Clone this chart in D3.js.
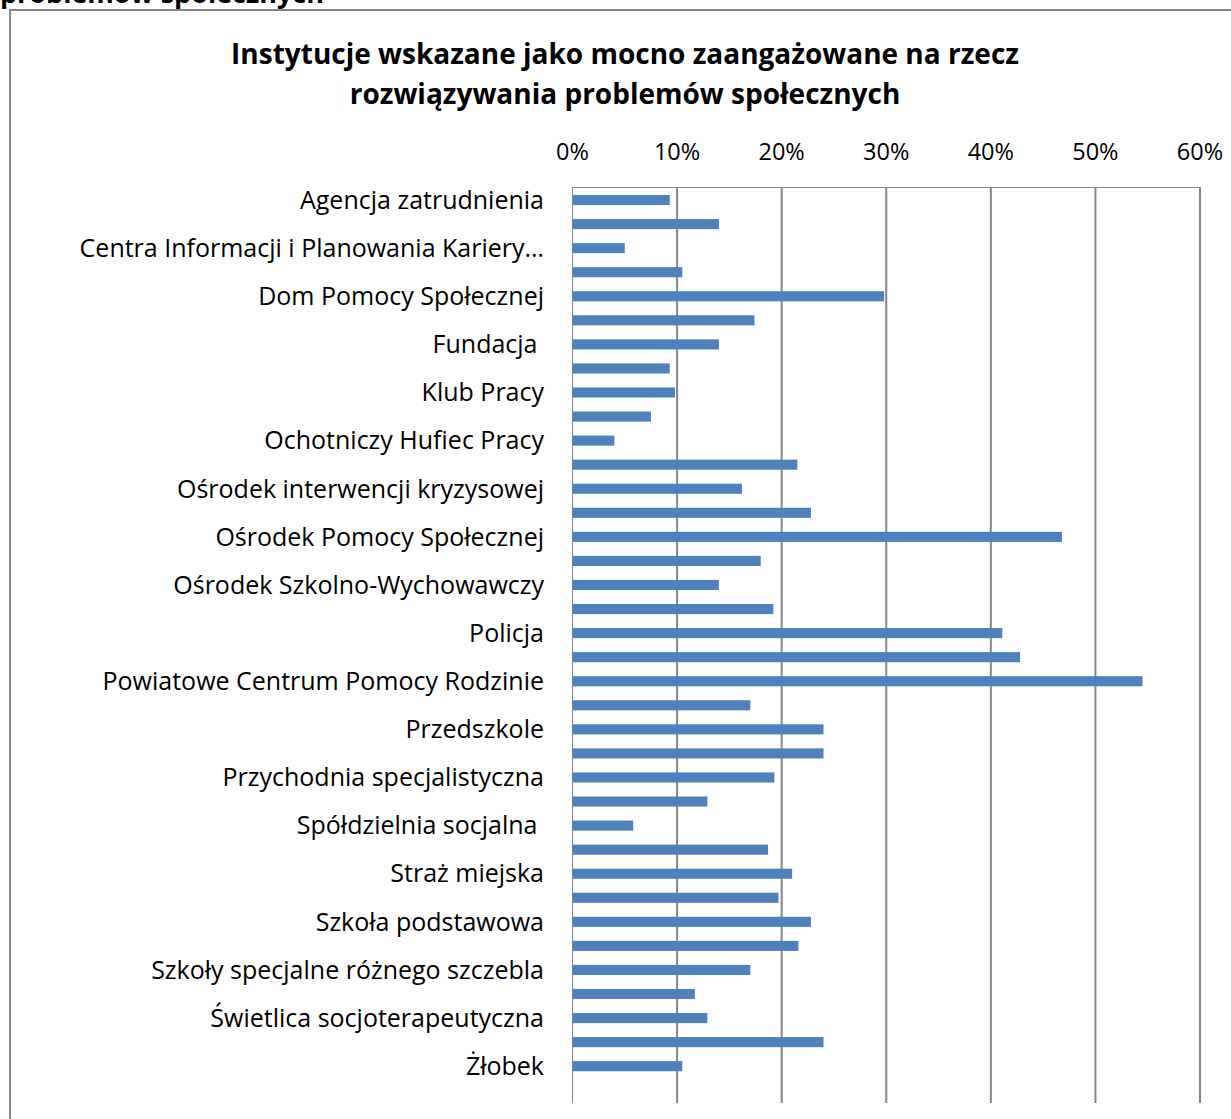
<!DOCTYPE html>
<meta charset="utf-8">
<style>
  body { margin: 0; background: #fff; }
  svg { display: block; }
  text { font-family: "Open Sans", sans-serif; fill: #000; white-space: pre; }
  .title { font-weight: bold; font-size: 28px; }
  .cut { font-weight: bold; font-size: 27px; }
  .lbl { font-size: 25px; }
  .tick { font-size: 23.5px; }
  .bar { fill: #4f81bd; }
  .grid { stroke: #868686; stroke-width: 2px; }
  .axisline { stroke: #868686; stroke-width: 1px; }
  .frame { fill: none; stroke: #868686; stroke-width: 2px; }
</style>
<body>
<svg width="1231" height="1119"></svg>
<script src="https://d3js.org/d3.v7.min.js"></script>
<script>

// categories (Excel shows only every second label)
var categories = [
  "Agencja zatrudnienia", "",
  "Centra Informacji i Planowania Kariery\u2026", "",
  "Dom Pomocy Społecznej", "",
  "Fundacja ", "",
  "Klub Pracy", "",
  "Ochotniczy Hufiec Pracy", "",
  "Ośrodek interwencji kryzysowej", "",
  "Ośrodek Pomocy Społecznej", "",
  "Ośrodek Szkolno-Wychowawczy", "",
  "Policja", "",
  "Powiatowe Centrum Pomocy Rodzinie", "",
  "Przedszkole", "",
  "Przychodnia specjalistyczna", "",
  "Spółdzielnia socjalna ", "",
  "Straż miejska", "",
  "Szkoła podstawowa", "",
  "Szkoły specjalne różnego szczebla", "",
  "Świetlica socjoterapeutyczna", "",
  "Żłobek"
];

// share of respondents (%)
var values = [
  9.3, 14.0, 5.0, 10.5, 29.8, 17.4, 14.0, 9.3, 9.8, 7.5,
  4.0, 21.5, 16.2, 22.8, 46.8, 18.0, 14.0, 19.2, 41.1, 42.8,
  54.5, 17.0, 24.0, 24.0, 19.3, 12.9, 5.8, 18.7, 21.0, 19.7,
  22.8, 21.6, 17.0, 11.7, 12.9, 24.0, 10.5
];

var xTicks = [0, 10, 20, 30, 40, 50, 60];

var titleLines = [
  "Instytucje wskazane jako mocno zaangażowane na rzecz",
  "rozwiązywania problemów społecznych"
];
var cutCaption = "problemów społecznych";

var svg = d3.select("svg"),
    W = +svg.attr("width"),
    H = +svg.attr("height");

var plot = {left: 572.5, right: 1200, top: 187, bottom: 1103};
var step = 24.06;

var x = d3.scaleLinear().domain([0, 60]).range([plot.left, plot.right]);
var y = d3.scaleBand()
    .domain(d3.range(categories.length))
    .range([plot.top + 1, plot.top + 1 + step * categories.length])
    .paddingInner(0.58)
    .paddingOuter(0.29);

// outer frame (chart object border, cut by the page)
svg.append("path")
    .attr("class", "frame")
    .attr("d", "M10," + (H + 5) + "V10H" + (W + 5));

// caption above the chart, mostly cut off by the page edge
svg.append("text")
    .attr("class", "cut")
    .attr("x", 0)
    .attr("y", 3)
    .text(cutCaption);

// title
svg.append("g").selectAll("text")
    .data(titleLines)
    .enter().append("text")
    .attr("class", "title")
    .attr("x", 625)
    .attr("y", function(d, i) { return 64 + i * 40; })
    .attr("text-anchor", "middle")
    .text(function(d) { return d; });

// vertical gridlines
svg.append("g").selectAll("line")
    .data(xTicks.slice(1))
    .enter().append("line")
    .attr("class", "grid")
    .attr("x1", function(d) { return x(d); })
    .attr("x2", function(d) { return x(d); })
    .attr("y1", plot.top)
    .attr("y2", plot.bottom);

// axis lines
svg.append("line").attr("class", "axisline")
    .attr("x1", x(0)).attr("x2", x(60))
    .attr("y1", plot.top + 0.5).attr("y2", plot.top + 0.5);
svg.append("line").attr("class", "axisline")
    .attr("x1", x(0)).attr("x2", x(0))
    .attr("y1", plot.top).attr("y2", plot.bottom);

// top tick labels
svg.append("g").selectAll("text")
    .data(xTicks)
    .enter().append("text")
    .attr("class", "tick")
    .attr("x", function(d) { return x(d); })
    .attr("y", 160)
    .attr("text-anchor", "middle")
    .text(function(d) { return d + "%"; });

// bars
svg.append("g").selectAll("rect")
    .data(values)
    .enter().append("rect")
    .attr("class", "bar")
    .attr("x", x(0))
    .attr("y", function(d, i) { return y(i); })
    .attr("width", function(d) { return x(d) - x(0); })
    .attr("height", y.bandwidth());

// category labels
svg.append("g").selectAll("text")
    .data(categories)
    .enter().append("text")
    .attr("class", "lbl")
    .attr("x", 544)
    .attr("y", function(d, i) { return y(i) + y.bandwidth() / 2; })
    .attr("dy", "0.35em")
    .attr("text-anchor", "end")
    .text(function(d) { return d; });

</script>
</body>
